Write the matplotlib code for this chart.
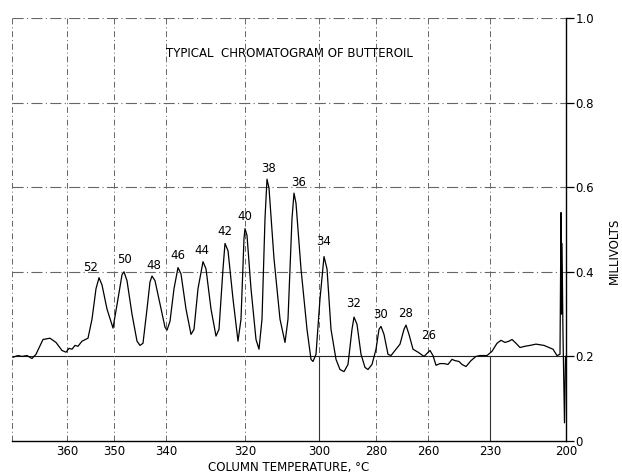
import matplotlib
matplotlib.use("Agg")
import matplotlib.pyplot as plt

# chart position along the recorder paper (left -> right), and temperature marks
temp_pos = [67, 114, 166, 245, 319, 376, 428, 490, 566]
temp_labels = ["360", "350", "340", "320", "300", "280", "260", "230", "200"]

# recorder trace: position, millivolts
trace_x = [13, 18, 22, 27, 32, 36, 43, 50, 56, 62, 66, 69, 72, 75, 78, 82, 88, 92, 96, 99,
           102, 107, 113, 118, 122, 124, 127, 132, 137, 140, 143, 147, 150, 152, 155, 160,
           165, 167, 170, 174, 178, 181, 186, 191, 194, 198, 203, 206, 211, 216, 219, 223,
           225, 228, 233, 238, 241, 244, 245, 247, 251, 256, 259, 262, 265, 267, 269, 274,
           280, 285, 288, 292, 294, 296, 301, 307, 311, 313, 316, 320, 324, 327, 331, 336,
           340, 344, 348, 352, 354, 357, 361, 365, 368, 372, 376, 379, 381, 384, 388, 391,
           396, 400, 404, 406, 409, 413, 418, 424, 427, 430, 433, 436, 440, 444, 448, 452,
           455, 459, 462, 466, 471, 476, 480, 487, 492, 497, 501, 505, 509, 512, 516, 520,
           525, 530, 536, 544, 549, 553, 557, 560, 561, 561.5, 562, 563, 564.5, 565.5]
trace_mv = [0.198, 0.202, 0.200, 0.202, 0.195, 0.205, 0.240, 0.243, 0.233, 0.214, 0.210,
            0.219, 0.217, 0.226, 0.224, 0.236, 0.243, 0.288, 0.360, 0.386, 0.369, 0.312,
            0.267, 0.336, 0.393, 0.400, 0.379, 0.300, 0.236, 0.226, 0.231, 0.312, 0.376,
            0.390, 0.379, 0.324, 0.269, 0.262, 0.283, 0.360, 0.410, 0.395, 0.312, 0.252,
            0.264, 0.360, 0.424, 0.407, 0.312, 0.248, 0.264, 0.407, 0.467, 0.450, 0.336,
            0.236, 0.288, 0.479, 0.502, 0.486, 0.360, 0.240, 0.217, 0.288, 0.526, 0.619,
            0.598, 0.431, 0.288, 0.233, 0.288, 0.526, 0.586, 0.562, 0.407, 0.264, 0.193,
            0.188, 0.205, 0.336, 0.436, 0.407, 0.264, 0.193, 0.169, 0.164, 0.181, 0.264,
            0.293, 0.276, 0.205, 0.174, 0.169, 0.181, 0.217, 0.264, 0.271, 0.252, 0.205,
            0.202, 0.217, 0.229, 0.264, 0.274, 0.252, 0.217, 0.210, 0.200, 0.207, 0.214,
            0.202, 0.179, 0.183, 0.183, 0.181, 0.193, 0.190, 0.188, 0.181, 0.176, 0.190,
            0.200, 0.202, 0.202, 0.212, 0.231, 0.238, 0.233, 0.236, 0.240, 0.231, 0.221,
            0.224, 0.226, 0.229, 0.226, 0.221, 0.217, 0.202, 0.205, 0.540, 0.300, 0.467,
            0.250, 0.043, 0.200]

# labelled peaks (carbon number) and their apex
peak_names = ["52", "50", "48", "46", "44", "42", "40", "38", "36", "34", "32", "30", "28", "26"]
peak_x = [99, 124, 152, 178, 203, 225, 245, 267, 294, 324, 354, 381, 406, 430]
peak_mv = [0.386, 0.400, 0.390, 0.410, 0.424, 0.467, 0.502, 0.619, 0.586, 0.436, 0.293,
           0.271, 0.274, 0.214]
label_dx = [-6, 0, 1, 0, -1, 0, 0, 1, 3, 0, 0, 0, 0, -1]   # points
label_dy = [3, 4, 3, 4, 3, 4, 4, 3, 3, 6, 5, 4, 4, 6]

mv_ticks = [0, 0.2, 0.4, 0.6, 0.8, 1.0]
mv_labels = ["0", "0.2", "0.4", "0.6", "0.8", "1.0"]

fig = plt.figure(figsize=(6.22, 4.75), dpi=100)
ax = fig.add_axes([12 / 622, 34 / 475, 554 / 622, 423 / 475])
ax.set_xlim(12, 566)
ax.set_ylim(0, 1.0)

gcol = "#666666"
# horizontal rulings
for v in [0.4, 0.6, 0.8, 1.0]:
    ax.axhline(v, color=gcol, lw=0.8, ls=(0, (10, 3, 1, 3)), zorder=1)
ax.axhline(0.2, color="#222222", lw=0.8, zorder=1)
# vertical rulings at temperature marks
for p in [12] + temp_pos[:-1]:
    ax.axvline(p, color=gcol, lw=0.7, ls=(0, (6, 3, 1, 3)), zorder=1)
for p in [319, 490]:
    ax.plot([p, p], [0, 0.2], color="#333333", lw=0.8, zorder=1)

ax.plot(trace_x, trace_mv, color="black", lw=0.9, zorder=3)

for name, px, pv, dx, dy in zip(peak_names, peak_x, peak_mv, label_dx, label_dy):
    ax.annotate(name, (px, pv), xytext=(dx, dy), textcoords="offset points",
                ha="center", va="bottom", fontsize=8.5)

ax.text(0.5, 0.915, "TYPICAL  CHROMATOGRAM OF BUTTEROIL", transform=ax.transAxes,
        ha="center", va="center", fontsize=8.5)

for s in ["top", "left"]:
    ax.spines[s].set_visible(False)
ax.spines["right"].set_linewidth(1.0)
ax.spines["bottom"].set_linewidth(1.0)

ax.set_xticks(temp_pos)
ax.set_xticklabels(temp_labels, fontsize=8.5)
ax.tick_params(axis="x", length=0, pad=3)
ax.set_xlabel("COLUMN TEMPERATURE, °C", fontsize=8.5, labelpad=2)

ax.yaxis.tick_right()
ax.set_yticks(mv_ticks)
ax.set_yticklabels(mv_labels, fontsize=8.5)
ax.tick_params(axis="y", length=6, width=0.9, pad=1, right=True, left=False)
ax.yaxis.set_label_position("right")
ax.set_ylabel("MILLIVOLTS", fontsize=8.5)
ax.yaxis.set_label_coords(1.075, 0.45)

fig.savefig("out.png", dpi=100)
